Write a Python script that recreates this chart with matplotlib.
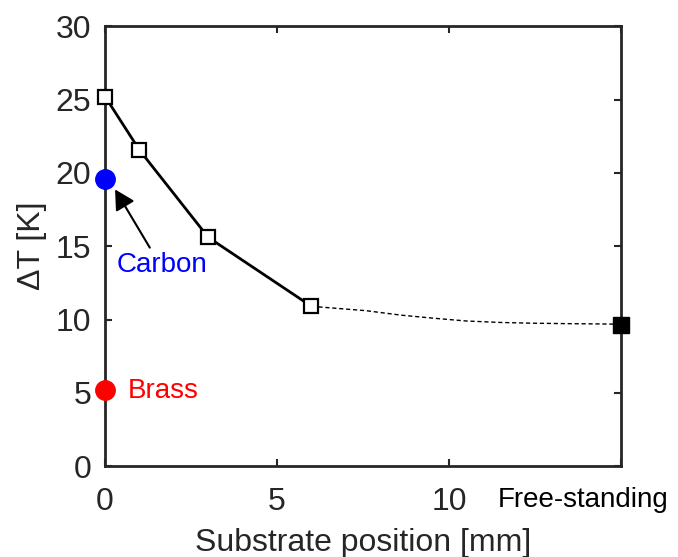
import numpy as np
import matplotlib
matplotlib.use('Agg')
import matplotlib.pyplot as plt
import matplotlib.transforms as mtransforms

plt.rcParams['font.family'] = ['Liberation Sans', 'DejaVu Sans']

# substrate measurements (open squares, solid line)
pos = [0, 1, 3, 6]
dT = [25.2, 21.55, 15.6, 10.9]

# dashed trend towards the free-standing value
trend_x = [6, 7.6, 8.6, 9.5, 10.5, 11.5, 12.4, 13.4, 14.4, 15]
trend_y = [10.9, 10.6, 10.3, 10.1, 9.9, 9.8, 9.75, 9.72, 9.7, 9.68]

# free-standing point
free_x = 15
free_y = 9.65

# reference substrates
carbon = 19.55
brass = 5.2

fig = plt.figure(figsize=(6.78, 5.57), dpi=100)
ax = fig.add_axes([0.155, 0.163, 0.761, 0.79])

gray = '#262626'

ax.plot(trend_x, trend_y, linestyle='--', dashes=(3, 2), color='k', linewidth=1.0, zorder=2)
ax.plot(pos, dT, linestyle='-', color='k', linewidth=2.0, marker='s', markersize=10,
        markerfacecolor='white', markeredgecolor='k', markeredgewidth=1.6, clip_on=False, zorder=3)
ax.plot([free_x], [free_y], marker='s', markersize=11, color='k', clip_on=False, zorder=4)
ax.plot([0], [carbon], marker='o', markersize=14, color='#0000ff', clip_on=False, zorder=4)
ax.plot([0], [brass], marker='o', markersize=14, color='#ff0000', clip_on=False, zorder=4)

ax.annotate('', xy=(0.29, 18.87), xytext=(1.3, 14.9),
            arrowprops=dict(arrowstyle='-|>,head_length=1.2,head_width=0.65',
                            color='k', linewidth=1.5, shrinkA=0, shrinkB=0))
ax.text(1.65, 13.75, 'Carbon', color='#0000ff', fontsize=20, ha='center', va='center')
ax.text(0.65, 5.1, 'Brass', color='#ff0000', fontsize=20, ha='left', va='center')

ax.set_xlim(0, 15)
ax.set_ylim(0, 30)
ax.set_xticks([0, 5, 10, 15])
ax.set_xticklabels(['0', '5', '10', ''])
ax.set_yticks([0, 5, 10, 15, 20, 25, 30])

trans = mtransforms.blended_transform_factory(ax.transData, ax.transAxes)
ax.text(13.9, -0.076, 'Free-standing', transform=trans, fontsize=20, color='k',
        ha='center', va='center')

ax.tick_params(direction='in', length=5, width=1.5, colors=gray, labelsize=23,
               top=True, right=True)
ax.tick_params(axis='x', pad=15)
ax.tick_params(axis='y', pad=10)
for s in ax.spines.values():
    s.set_linewidth(2.0)
    s.set_color(gray)

ax.set_xlabel('Substrate position [mm]', fontsize=23, color=gray, labelpad=8)
ax.set_ylabel('\u0394T [K]', fontsize=23, color=gray, labelpad=6)

fig.savefig('out.png', dpi=100)
